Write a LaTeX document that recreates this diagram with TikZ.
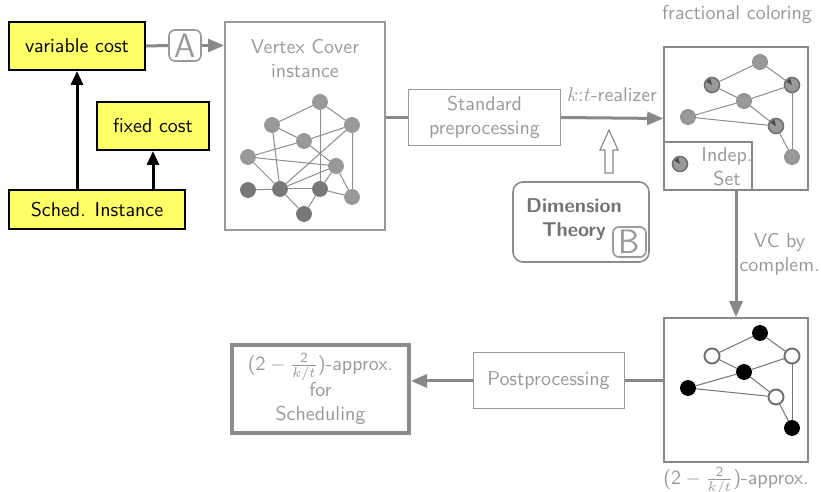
\documentclass[tikz,border=0pt]{standalone}
\usepackage{tikz}
\usetikzlibrary{arrows.meta}

\definecolor{boxyellow}{RGB}{255,255,102}
\definecolor{linegray}{RGB}{136,136,136}
\definecolor{textgray}{RGB}{153,153,153}

\begin{document}
\begin{tikzpicture}[x=0.5pt,y=-0.5pt,
                        every node/.style={font=\sffamily},
                        ybox/.style={draw=black,line width=1pt,fill=boxyellow,inner sep=0pt},
                        gbox/.style={draw=textgray,line width=0.5pt,text=textgray,align=center,inner sep=0pt},
                        gtext/.style={text=textgray,align=center},
                        tagbox/.style={draw=textgray,line width=0.8pt,rounded corners=3pt,text=textgray,
                                    font=\sffamily\fontsize{17}{17}\selectfont,inner sep=0pt},
                        garrow/.style={draw=linegray,line width=1.5pt,-{Triangle[length=8pt,width=6.5pt]}},
                        gline/.style={draw=linegray,line width=1.5pt},
                        blkarrow/.style={draw=black,line width=1.5pt,-{Triangle[length=7pt,width=6pt]}},
                        vtx/.style={circle,minimum size=7.5pt,inner sep=0pt,fill=black!40,draw=black!45,line width=0.4pt},
                        isnode/.style={vtx,draw=black!55,line width=0.8pt,
                                    path picture={\fill[black!70] (path picture bounding box.center)
                                    -- ++(105:3.2pt) arc[start angle=105,end angle=150,radius=3.2pt] -- cycle;}},
                        blkv/.style={vtx,fill=black,draw=black},
                        whtv/.style={vtx,fill=white,draw=black!55,line width=1pt},
                        glink/.style={draw=black!45,line width=0.5pt},
                  ]
                              % Page
                              \useasboundingbox (0,0) rectangle (821,492);

                              % Scheduling side
                              \node[ybox,minimum width=68pt,minimum height=24pt] (varcost) at (77,46) {variable cost};
                              \node[ybox,minimum width=56pt,minimum height=24pt] (fixcost) at (153,126) {fixed cost};
                              \node[ybox,minimum width=88pt,minimum height=19.5pt] (sched) at (97,209.5) {Sched. Instance};
                              \draw[blkarrow] (sched.north -| varcost.south) -- (varcost.south);
                              \draw[blkarrow] (sched.north -| fixcost.south) -- (fixcost.south);

                              % Vertex cover instance
                              \node[tagbox,minimum width=16pt,minimum height=15.5pt] (tagA) at (185,45.5) {A};
                              \node[draw=textgray,line width=1pt,minimum width=80pt,minimum height=104pt] (vc) at (305,126) {};
                              \node[gtext] (vctext) at (305,58.5) {Vertex Cover\\instance};
                              \draw[gline] (varcost.east) -- (tagA.west);
                              \draw[garrow] (tagA.east) -- (vc.west |- tagA.east);

                              \foreach \n/\x/\y/\c in {1/320/102/black!40, 2/272/125/black!40, 3/352/125/black!40,
                                          4/304/141/black!40, 5/248/157/black!40, 6/336/166/black!40,
                                          7/248/190/black!53, 8/280/189/black!53, 9/320/189/black!53,
                                          10/352/197/black!40, 11/304/214/black!53}
                                    \node[vtx,fill=\c,draw=\c] (v\n) at (\x,\y) {};
                              \foreach \a/\b in {1/2,1/3,1/9,2/4,2/8,4/3,5/4,4/6,3/10,3/8,5/6,5/8,
                                          6/8,6/9,6/10,7/8,8/9,8/11,9/11,9/10}
                                    \draw[glink] (v\a) -- (v\b);

                              % Preprocessing
                              \node[gbox,minimum width=76pt,minimum height=28pt] (pre) at (484.5,117.5) {Standard\\preprocessing};
                              \draw[gline] (vc.east |- pre.west) -- (pre.west);

                              % Fractional coloring
                              \node[draw=linegray,line width=0.8pt,minimum width=72pt,minimum height=71.5pt] (frac) at (736,118.5) {};
                              \node[gtext] (fctext) at (737,15) {fractional coloring};
                              \draw[garrow] (pre.east) -- node[gtext,above=4pt]{$k$:$t$-realizer} (frac.west);
                              \node[draw=linegray,line width=0.8pt,minimum width=44pt,minimum height=24pt] (indep) at (708,166) {};
                              \node[isnode] (iskey) at (680,164) {};
                              \node[gtext] (istext) at (727,167) {Indep.\\Set};

                              \begin{scope}[shift={(440,-40)}]
                                    \foreach \n/\x/\y/\s in {1/320/102/vtx, 2/272/125/isnode, 3/352/125/isnode,
                                                4/304/141/vtx, 5/248/157/vtx, 6/336/166/isnode, 7/352/197/vtx}
                                          \node[\s] (f\n) at (\x,\y) {};
                              \end{scope}
                              \foreach \a/\b in {1/2,1/3,2/4,4/3,5/4,4/6,5/6,3/7,6/7}
                                    \draw[glink] (f\a) -- (f\b);

                              % Dimension theory
                              \node[draw=black!45,line width=0.8pt,rounded corners=5pt,minimum width=68pt,minimum height=40pt] (dim) at (581,222) {};
                              \node[text=black!55,font=\sffamily\bfseries,align=center] (dimtext) at (574,220) {Dimension\\Theory};
                              \node[tagbox,minimum width=16.5pt,minimum height=15pt] (tagB) at (629.5,242) {B};
                              \draw[draw=black!45,line width=0.6pt,fill=white] (605,173) -- (605,150) -- (600,150)
                              -- (609,130) -- (618,150) -- (613,150) -- (613,173) -- cycle;

                              % Approximation
                              \node[draw=linegray,line width=0.8pt,minimum width=72pt,minimum height=72pt] (apx) at (736,390) {};
                              \node[gtext,below,inner sep=2pt] (apxtext) at (apx.south) {($\mathsf{2}-\frac{\mathsf{2}}{k/t}$)-approx.};
                              \draw[garrow] (frac.south) -- node[gtext,right,inner sep=1pt]{VC by\\complem.} (apx.north);

                              \begin{scope}[shift={(440,231)}]
                                    \foreach \n/\x/\y/\s in {1/320/102/blkv, 2/272/125/whtv, 3/352/125/whtv,
                                                4/304/141/blkv, 5/248/157/blkv, 6/336/166/whtv, 7/352/197/blkv}
                                          \node[\s] (g\n) at (\x,\y) {};
                              \end{scope}
                              \foreach \a/\b in {1/2,1/3,2/4,4/3,5/4,4/6,5/6,3/7,6/7}
                                    \draw[glink,draw=black!55] (g\a) -- (g\b);

                              % Postprocessing
                              \node[gbox,minimum width=75.5pt,minimum height=28pt] (post) at (548.5,381) {Postprocessing};
                              \node[gtext,draw=black!45,line width=2pt,minimum width=88.5pt,minimum height=44pt,inner sep=0pt] (res) at (320.5,389)
                                    {($\mathsf{2}-\frac{\mathsf{2}}{k/t}$)-approx.\\for\\Scheduling};
                              \draw[gline] (apx.west |- post.east) -- (post.east);
                              \draw[garrow] (post.west) -- (res.east |- post.west);
                        \end{tikzpicture}
\end{document}
